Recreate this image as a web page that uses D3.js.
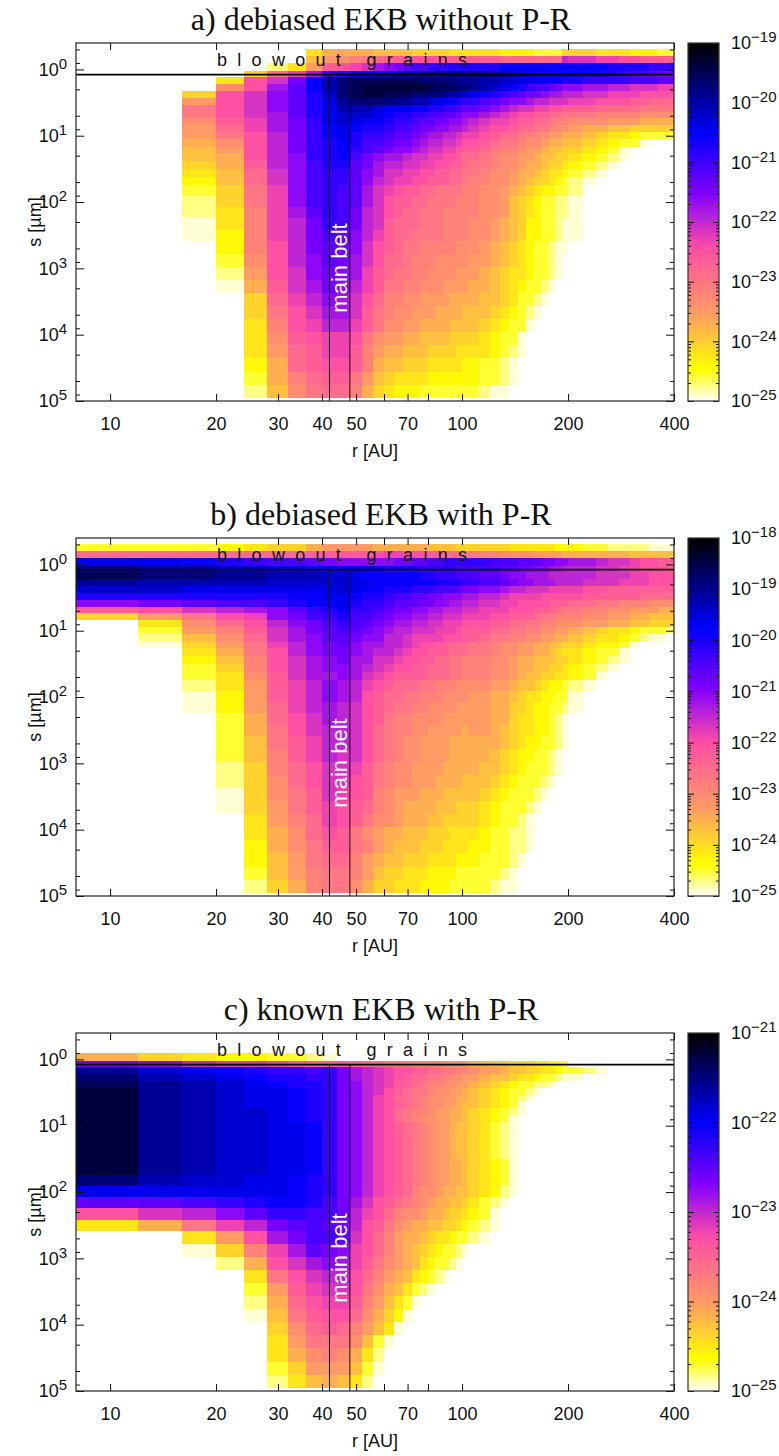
<!DOCTYPE html>
<html>
<head>
<meta charset="utf-8">
<title>EKB dust</title>
<script src="https://cdn.jsdelivr.net/npm/d3@7"></script>
<style>
    body { margin: 0; background: #fff; }
    text { font-family: "Liberation Sans", Arial, sans-serif; fill: #111; }
    .title { font-family: "Liberation Serif", serif; }
</style>
</head>
<body>
<script>
"use strict";

// radial bins [AU] and grain size bins [um]
const rEdges = [8,12,16,20,24,28,32,36,40,44,48,52,56,60,64,68,72,76,80,84,88,92,96,100,104,
    112,120,128,136,144,152,160,168,176,184,192,200,220,240,260,280,300,320,340,360,380,400];
const sEdges = [0.5,0.635,0.8,1.05,1.32,1.66,2.12,2.67,3.41,4.35,5.47,6.9,8.7,11.3,14.7,18.4,23.8,31.8,41.6,56,
    81,118,175,265,384,608,946,1486,2333,3707,5821,9141,14350,22800,36300,57500,89500];

const rTicks = [10,20,30,40,50,60,70,80,100,200,400];
const rLabels = [10,20,30,40,50,70,100,200,400];
const sMajor = [1,10,100,1000,10000,100000];
const sMinor = [0.5,0.8,2,5,8,20,50,80,200,500,800,2000,5000,8000,20000,50000,80000];
const beltEdges = [42,48];
const blowoutSize = 1.2;

const titles = ["a) debiased EKB without P-R","b) debiased EKB with P-R","c) known EKB with P-R"];
const cbExponents = [[-25,-19],[-25,-18],[-25,-21]];

// one string per size bin, top to bottom, one base 36 digit per radial bin:
// 0 = no dust, 35 = top of the colour bar. Spaces only group the columns.
const fluxA = [
"00000005 88887777 66666555 555444433336 6655544433",
"00000007 9abcdeef ffffeeee eeeddddddddi hhggffeeee",
"00000259 efghjklm nnoooppp pppqqqqqqqqq qqqppppooo",
"00006dgj oprrsstt tuuuuuuu uuttssrrrqqq qqpponnmml",
"0005fhlq tvwwwwww wvvvvvuu uttssrrrqqqp poooonnnmm",
"000afjmq tvwxxxxx xxwwwwvv utsrqponnmlk kjjiihhhgg",
"006fhkmp svwxxwww vvvvutts rqponmllkjji ihhgggffff",
"009fhkmp ruvvvvuu ttsrrqpo onmlkkjiihhh ggfffeeddd",
"00cfhkmp rtttsrrr qqppoonm mlkjihhggffe eeddddcccc",
"00cfhjmp rsssrqpp oonnmmlk kjihgffeeddc ccbbbbaaaa",
"00aegjlo rsrqqpoo nmmllkkj ihggfeeddcbb aaa9998888",
"009dgjlo qrqpponn mllkkjji hgffeddccbaa 9887766666",
"009cfilo qrpoonmm lkjjiihg gfeddcbba998 8765543333",
"008afilo pqpnnmll kjiihhgf fedccbaa9887 7654331000",
"0079filo pqonmlkk jihhggfe edcbba998776 6543100000",
"0078fiko pqnlkjji hhggffed dcbaa9987766 5432100000",
"0068eikn ppmljiih hggffeed ccbaa9887665 4321000000",
"0057dhkn oomkjhhg gffeeddc cbaa98876554 3210000000",
"0047dhkn oomkihgg ffeeeddc bbaa98766543 2100000000",
"0036cgkn onmjhgfe eddccccb baa987654433 2000000000",
"0026cgkn onmjhfee ddccccbb baa976543322 1000000000",
"0025bgjm onlihfed dcccbbbb baa976543322 1000000000",
"0015bgil onlihedd dcccbbbb aa9876443321 1000000000",
"0014bgil nmkigedd ccccbbbb aa9876443321 1000000000",
"0004bfil mlkhfedc cbbbbbaa a98765433211",
"0003afik mljhfddc bbbaaaaa 998765433210",
"00029fhk lkjgedcc bbaaaa99 987655433210",
"00018ehj lkigeccb baaa9999 887654332100",
"00006dgi kjhfdbba a9999888 877653321000",
"00006cfh jjhecbaa 99988887 776543210000",
"00005bfg iigecaa9 98888777 765433100000",
"00005aef ggfca998 87777666 654331000000",
"000059de ggeb9887 77666655 554321000000",
"000048de ffeb8776 66555554 433210000000",
"000038bd eec97655 55444444 433210000000",
"000027ac ddb86544 43333333 321100000000"
];

const fluxB = [
"33345668 99998888 88777766 666655555544 4332222111",
"ddddddde eeeefggf ffeedddc cbbaaaa99998 8888877777",
"rrqponnm lkkkkkll mmnnoooo oonnnmmmllkk jjihhgffee",
"uttssrrq qqqqqppp pooooonn nnnmmllkkjji iihhggfffe",
"wvvuuttt ssrqqqqq qppooonn nmmlkkjjjiii iihhhggfff",
"uttttsss ssrrqqqq qqqppppo onnmlkkjjjii ihhhgggfff",
"ssrrrrrr rsrqqppp ooonnnml lkkjiihhhggg gffeeeeeee",
"ppppppqq rrqpponn mmllkkkj jiihggggffff feeeeedddd",
"klmnnopq qrpoonmm mllkkjji ihhggffffeee ddccbbbaaa",
"efhijkmo pqoonmll kkjjiiih hgggfffeeddc cbbaa99988",
"69cfgkln opnnmlkk jjiihhhg ggffeeedccbb baa9988777",
"05adfikl nonmlkjj iihhgggf ffeeddccbbaa a998877666",
"039behjl mnmlkjii hhhgggfe eeddccbbaa99 8765543332",
"027adhjk mmlkkiih ggggfffe edccbbaa9988 7655432110",
"0169cgik lmkjjiih gffeeddd ccbaa9988776 6544310000",
"0058cfik llkjiihg ffeeeddd ccbaa9988765 5433100000",
"0047bfhj kljjhhgf feeddccb bbaa98877766 5432100000",
"0036bfhj kkjihgff eedddccb bbaa98877665 4321000000",
"0035aehj jkjhgfee eedddccb bbaa98776655 4310000000",
"00259egi kjigfedd dccbbbaa aa9987765443 2100000000",
"00149egi kjifeddc cbbbaaaa 998876554433 1000000000",
"00149dgi jihfedcc bbaaaa99 998866544332 1000000000",
"00038dfh jihfecbb aaaa9999 998865544321",
"00038cfh iihfdcbb aa999998 998765544321",
"00037ceg iihfdcba a9999888 888765443321",
"00037beg ihhfdcba a9999888 887654433210",
"00026bdf hhgecbaa 99998888 877654333210",
"00026adf hhfecbaa 99988887 776543332100",
"00016ace hgfeba99 98887777 765433321000",
"000169ce gfedba98 88877766 654333210000",
"000059bd gfecaa98 88776666 654332100000",
"000058ad feca9887 77666555 543322100000",
"000048ac eecb9877 76665555 443322100000",
"0000479c ddb98776 66555544 433321000000",
"0000379b ccb97665 55444433 333210000000",
"0000268b cca86655 54444333 332110000000"
];

const fluxC = [
"00000000",
"00000000",
"86544332 10000000",
"lkihhgfe eedddccc bbbbaaa9 887766655443",
"usrqpoon oljihgff eeddccbb a99877665543 3210000000",
"vtsrqppo oljihgfe ddccbaa9 987765543321 1000000000",
"wutsrqpp olkihgee dcbbaa99 876543322100",
"xutsrrqp olkihfed ccbaa998 765433210000",
"xutsrrqp olkigfdd cbaa9988 765432100000",
"xutsrrqp olkigfed cbaa9987 765431000000",
"xutssrqp olkigfdc bba99887 654321000000",
"xutssrqp olkigfdc baa99887 654310000000",
"xutssrrq olkigfed cba99877 653210000000",
"xutssrrq olkigfed cba99877 653210000000",
"xutssrrq olkigfed cba99877 653210000000",
"xutssrrq olkigfed cba99877 653210000000",
"xutssrrq olkigfed cba99877 653210000000",
"xutssrrq olkigfed cba99887 654310000000",
"xutssrrq olkigfed cba99887 654310000000",
"vtssrrqp olkigfed cba99887 654310000000",
"rrrrrrqp olkigfed baa98877 654210000000",
"mmnopqqp nljhfedc ba988776 532100000000",
"fhikmoon nligfdba a9887665 431000000000",
"58cgilmn mlifeca9 88776654 321000000000",
"0059fjln nmhfdb98 87655433 210000000000",
"0016bgjm lkgfdb98 76543321",
"00028fhj kjgeca98 75433210",
"00005cfh iifdb987 54321000",
"000039eg hhfca875 32100000",
"000028df ggeb9753 10000000",
"000017ce ffda8641",
"000006ad edb97510",
"0000059c cca73100",
"0000058a ba852000",
"00000369 99731000",
"00000257 87520000"
];
const fluxes = [fluxA, fluxB, fluxC];

// palette of the colour bar, position 0..1 from bottom to top
const paletteStops = [0,0.09,0.25,0.43,0.58,0.75,1];
const paletteColors = ["#ffffff","#ffff00","#ff9966","#ff4da6","#8000ff","#0000ff","#000000"];

const topLevel = 35;
const width = 779, height = 1456;
const plotLeft = 76, plotRight = 674, plotHeight = 358;
const barLeft = 688, barRight = 719;
const panelTops = [43,538,1033];

const svg = d3.select("body").append("svg")
    .attr("width", width)
    .attr("height", height)
    .style("display", "block");

function powerLabel(sel, exponent, supDy) {
    sel.text("10");
    sel.append("tspan")
        .attr("dy", supDy)
        .attr("font-size", 15)
        .text(String(exponent).replace("-", "\u2212"));
}

function tidy(g) {
    g.select(".domain").remove();
    g.selectAll(".tick line").attr("stroke", "#111").attr("stroke-width", 1);
}

function drawPanel(index) {
    const top = panelTops[index];
    const bottom = top + plotHeight;
    const rows = fluxes[index];
    const [logMin, logMax] = cbExponents[index];
    const g = svg.append("g");

    const x = d3.scaleLog().domain([8, 400]).range([plotLeft, plotRight]);
    const y = d3.scaleLog().domain([0.4, 1e5]).range([top, bottom]);
    const barY = d3.scaleLog().domain([Math.pow(10, logMin), Math.pow(10, logMax)]).range([bottom, top]);
    const color = d3.scaleLinear()
        .domain(paletteStops.map(f => logMin + f * (logMax - logMin)))
        .range(paletteColors)
        .clamp(true);

    const levelToLog = level => logMin + (level - 0.5) / (topLevel - 0.5) * (logMax - logMin);

    // heat map cells
    const cells = [];
    rows.forEach((row, j) => {
        const digits = row.replace(/ /g, "");
        for (let i = 0; i < rEdges.length - 1; i++) {
            const level = parseInt(digits.charAt(i) || "0", 36);
            if (level > 0) cells.push({i: i, j: j, level: level});
        }
    });
    g.selectAll("rect.cell").data(cells).enter().append("rect")
        .attr("class", "cell")
        .attr("x", d => x(rEdges[d.i]))
        .attr("width", d => x(rEdges[d.i + 1]) - x(rEdges[d.i]))
        .attr("y", d => y(sEdges[d.j]))
        .attr("height", d => y(sEdges[d.j + 1]) - y(sEdges[d.j]))
        .attr("fill", d => color(levelToLog(d.level)))
        .attr("shape-rendering", "crispEdges");

    // main belt and blowout limit
    g.selectAll("line.belt").data(beltEdges).enter().append("line")
        .attr("class", "belt")
        .attr("x1", d => x(d)).attr("x2", d => x(d))
        .attr("y1", y(blowoutSize)).attr("y2", bottom)
        .attr("stroke", "#111").attr("stroke-width", 1);
    g.append("line")
        .attr("x1", plotLeft).attr("x2", plotRight)
        .attr("y1", y(blowoutSize)).attr("y2", y(blowoutSize))
        .attr("stroke", "#000").attr("stroke-width", 1.6);

    // axes
    const axisX = g.append("g").attr("transform", `translate(0,${bottom})`)
        .call(d3.axisBottom(x).tickValues(rTicks).tickSizeInner(-7).tickSizeOuter(0).tickPadding(16)
            .tickFormat(d => rLabels.includes(d) ? d : ""));
    axisX.call(tidy);
    axisX.selectAll("text").attr("font-size", 18).attr("fill", "#111");
    g.append("g").attr("transform", `translate(0,${top})`)
        .call(d3.axisTop(x).tickValues(rTicks).tickSizeInner(-7).tickSizeOuter(0).tickFormat(""))
        .call(tidy);

    const axisY = g.append("g").attr("transform", `translate(${plotLeft},0)`)
        .call(d3.axisLeft(y).tickValues(sMajor).tickSizeInner(-8).tickSizeOuter(0).tickPadding(9));
    axisY.call(tidy);
    axisY.selectAll("text").attr("font-size", 18).attr("fill", "#111")
        .each(function(d) { powerLabel(d3.select(this), Math.round(Math.log10(d)), -7); });
    g.append("g").attr("transform", `translate(${plotLeft},0)`)
        .call(d3.axisLeft(y).tickValues(sMinor).tickSizeInner(-4).tickSizeOuter(0).tickFormat(""))
        .call(tidy);
    g.append("g").attr("transform", `translate(${plotRight},0)`)
        .call(d3.axisRight(y).tickValues(sMajor).tickSizeInner(-8).tickSizeOuter(0).tickFormat(""))
        .call(tidy);
    g.append("g").attr("transform", `translate(${plotRight},0)`)
        .call(d3.axisRight(y).tickValues(sMinor).tickSizeInner(-4).tickSizeOuter(0).tickFormat(""))
        .call(tidy);

    g.append("rect")
        .attr("x", plotLeft).attr("y", top)
        .attr("width", plotRight - plotLeft).attr("height", plotHeight)
        .attr("fill", "none").attr("stroke", "#222").attr("stroke-width", 1.2);

    // colour bar
    const steps = d3.range(0, plotHeight);
    g.selectAll("rect.step").data(steps).enter().append("rect")
        .attr("class", "step")
        .attr("x", barLeft).attr("width", barRight - barLeft)
        .attr("y", d => top + d).attr("height", 1.2)
        .attr("fill", d => color(logMax - d / plotHeight * (logMax - logMin)))
        .attr("shape-rendering", "crispEdges");

    const barMajor = d3.range(logMin, logMax + 1).map(e => Math.pow(10, e));
    const barMinor = [];
    d3.range(logMin, logMax).forEach(e => {
        d3.range(2, 10).forEach(m => barMinor.push(m * Math.pow(10, e)));
    });
    const axisBar = g.append("g").attr("transform", `translate(${barRight},0)`)
        .call(d3.axisRight(barY).tickValues(barMajor).tickSizeInner(-6).tickSizeOuter(0).tickPadding(12));
    axisBar.call(tidy);
    axisBar.selectAll("text").attr("font-size", 18).attr("fill", "#111")
        .attr("text-anchor", "start")
        .each(function(d) { powerLabel(d3.select(this), Math.round(Math.log10(d)), -7); });
    g.append("g").attr("transform", `translate(${barRight},0)`)
        .call(d3.axisRight(barY).tickValues(barMinor).tickSizeInner(-3).tickSizeOuter(0).tickFormat(""))
        .call(tidy);
    g.append("g").attr("transform", `translate(${barLeft},0)`)
        .call(d3.axisLeft(barY).tickValues(barMajor).tickSizeInner(-6).tickSizeOuter(0).tickFormat(""))
        .call(tidy);
    g.append("g").attr("transform", `translate(${barLeft},0)`)
        .call(d3.axisLeft(barY).tickValues(barMinor).tickSizeInner(-3).tickSizeOuter(0).tickFormat(""))
        .call(tidy);
    g.append("rect")
        .attr("x", barLeft).attr("y", top)
        .attr("width", barRight - barLeft).attr("height", plotHeight)
        .attr("fill", "none").attr("stroke", "#333").attr("stroke-width", 1.2);

    // texts
    g.append("text").attr("class", "title")
        .attr("x", 381).attr("y", top - 13)
        .attr("text-anchor", "middle").attr("font-size", 32)
        .text(titles[index]);
    g.append("text")
        .attr("x", 217).attr("y", top + 23)
        .attr("font-size", 18)
        .attr("textLength", 250).attr("lengthAdjust", "spacing")
        .attr("xml:space", "preserve")
        .text("b l o w o u t   g r a i n s");
    g.append("text")
        .attr("transform", `translate(347,${top + 225}) rotate(-90)`)
        .attr("text-anchor", "middle").attr("font-size", 22)
        .style("fill", "#fff")
        .text("main belt");
    g.append("text")
        .attr("x", 375).attr("y", bottom + 56)
        .attr("text-anchor", "middle").attr("font-size", 18)
        .text("r [AU]");
    g.append("text")
        .attr("transform", `translate(41,${top + plotHeight / 2}) rotate(-90)`)
        .attr("text-anchor", "middle").attr("font-size", 18)
        .text("s [\u00b5m]");
}

panelTops.forEach((_, i) => drawPanel(i));
</script>
</body>
</html>
